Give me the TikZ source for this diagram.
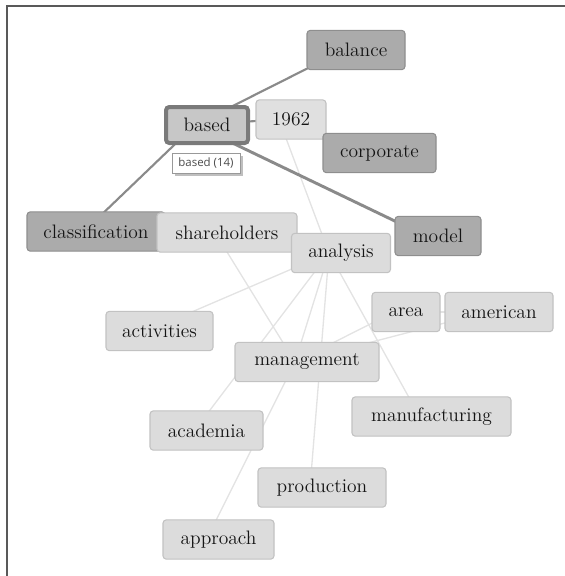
\documentclass[tikz,border=0pt]{standalone}
\usepackage{fontspec}
\newfontfamily\tipfont{Open Sans}
\usetikzlibrary{backgrounds,shadows}
\definecolor{darkbox}{HTML}{ABABAB}
\definecolor{darkrim}{HTML}{8E8E8E}
\definecolor{lightbox}{HTML}{DCDCDC}
\definecolor{lightrim}{HTML}{C2C2C2}
\definecolor{linkgray}{HTML}{8A8A8A}
\definecolor{faintgray}{HTML}{E3E3E3}
\begin{document}
\begin{tikzpicture}[x=0.75pt,y=-0.75pt,
	word/.style={draw=lightrim,fill=lightbox,line width=0.8pt,rounded corners=2.5pt,
		minimum height=29.5pt,inner sep=0pt,text=black!92,font=\fontsize{14.6}{17}\selectfont},
	strong/.style={word,draw=darkrim,fill=darkbox},
	wd/.style={minimum width=#1*0.75pt},
	link/.style={draw=linkgray,line width=1.6pt},
	faint/.style={draw=faintgray,line width=1pt}]
	\useasboundingbox (0,0) rectangle (565,576);
	\draw[black!65,line width=1.6pt] (565,6)--(7,6)--(7,576);
	% words
	\node[strong,wd=98] (balance) at (356,50) {balance};
	\node[word,wd=70,fill=black!12] (y1962) at (291,119.5) {1962};
	\node[strong,wd=113] (corporate) at (379.5,153) {corporate};
	\node[word,wd=82,minimum height=27pt,fill=black!22,draw=black!52,line width=3pt] (based) at (207,125) {based};
	\node[strong,wd=138] (classification) at (96,231.5) {classification};
	\node[word,wd=140] (shareholders) at (227,232.5) {shareholders};
	\node[word,wd=99] (analysis) at (341,253) {analysis};
	\node[strong,wd=86] (model) at (438,236) {model};
	\node[word,wd=68] (area) at (406,312) {area};
	\node[word,wd=108] (american) at (499,312) {american};
	\node[word,wd=107] (activities) at (159.5,331) {activities};
	\node[word,wd=144] (management) at (307,362) {management};
	\node[word,wd=113] (academia) at (206.5,430.5) {academia};
	\node[word,wd=159] (manufacturing) at (431.5,416.5) {manufacturing};
	\node[word,wd=128] (production) at (322,487.5) {production};
	\node[word,wd=111] (approach) at (218.5,539.5) {approach};
	\node[draw=black!40,fill=white,line width=0.6pt,inner sep=0pt,minimum width=51pt,minimum height=15pt,
		font=\tipfont\fontsize{8.6}{10}\selectfont,text=black!70,
		drop shadow={shadow xshift=2pt,shadow yshift=-2pt,fill=black!25,opacity=1}]
		(tip) at (206,163) {based (14)};
	% links, a little left of the box centres
	\foreach \n in {based,balance,y1962,classification,model,shareholders,analysis,area,american,
		activities,management,academia,manufacturing,production,approach}
		\coordinate (\n-c) at ([xshift=-9pt]\n.center);
	\begin{scope}[on background layer]
		\draw[faint] (y1962-c) -- (analysis-c);
		\draw[faint] (shareholders-c) -- (management-c);
		\draw[faint] (analysis-c) -- (activities-c);
		\draw[faint] (analysis-c) -- (academia-c);
		\draw[faint] (analysis-c) -- (management-c);
		\draw[faint] (analysis-c) -- (production-c);
		\draw[faint] (analysis-c) -- (manufacturing-c);
		\draw[faint] (area-c) -- (management-c);
		\draw[faint] (american-c) -- (management-c);
		\draw[faint] (area-c) -- (american-c);
		\draw[faint] (management-c) -- (approach-c);
		\draw[link] (based-c) -- (balance-c);
		\draw[link] (based-c) -- (classification-c);
		\draw[link,line width=2.2pt] (based-c) -- (model-c);
		\draw[link] (based-c) -- (y1962-c);
	\end{scope}
\end{tikzpicture}
\end{document}
